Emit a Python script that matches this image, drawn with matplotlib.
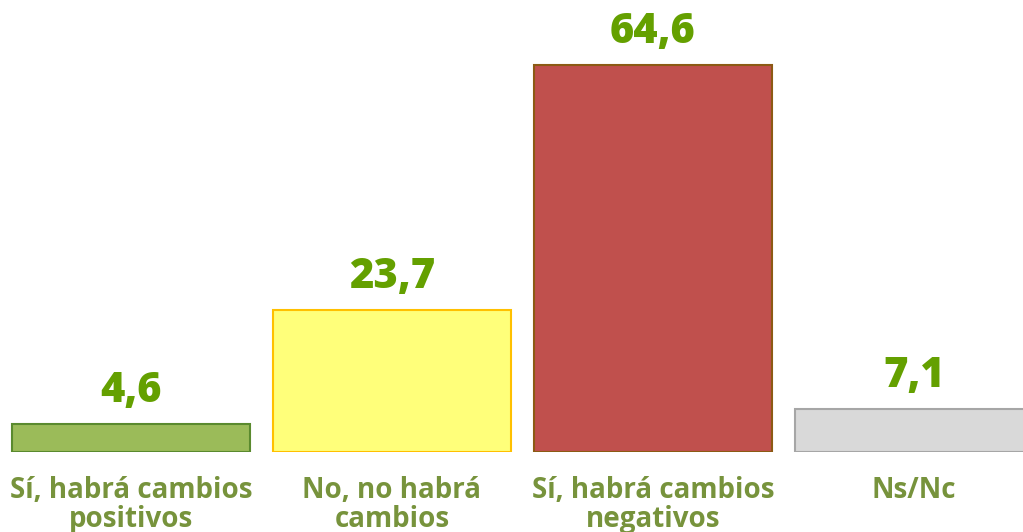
import matplotlib.pyplot as plt

# datos
categorias = ['Sí, habrá cambios\npositivos', 'No, no habrá\ncambios',
              'Sí, habrá cambios\nnegativos', 'Ns/Nc']
valores = [4.6, 23.7, 64.6, 7.1]
etiquetas = ['4,6', '23,7', '64,6', '7,1']

colores = ['#9BBB59', '#FFFF7A', '#C0504D', '#D9D9D9']
bordes = ['#5A8A2E', '#FFC000', '#8C5A14', '#A6A6A6']

plt.rcParams['font.family'] = ['Open Sans', 'DejaVu Sans']

fig = plt.figure(figsize=(10.23, 5.32), dpi=100)
ax = fig.add_axes([0, 80 / 532, 1, 452 / 532])

x = range(len(valores))
ax.bar(x, valores, width=0.912, color=colores, edgecolor=bordes, linewidth=1.5)

for i, v in enumerate(valores):
    ax.annotate(etiquetas[i], (i, v), xytext=(0, 16), textcoords='offset points',
                ha='center', va='baseline', fontsize=30, fontweight='heavy',
                color='#64A000')

ax.set_xlim(-0.502, 3.418)
ax.set_ylim(0, 75.5)
ax.set_xticks(list(x))
ax.set_xticklabels(categorias, fontsize=20, fontweight='bold', color='#77933C',
                   linespacing=1.0)
ax.tick_params(axis='x', length=0, pad=17)
ax.set_yticks([])
for s in ax.spines.values():
    s.set_visible(False)

fig.savefig('out.png', dpi=100)
